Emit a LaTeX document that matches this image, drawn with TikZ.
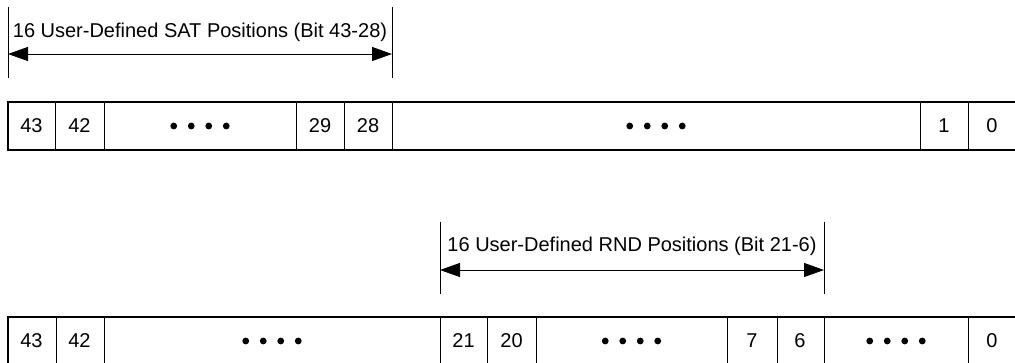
\documentclass[tikz,border=0pt]{standalone}
\usepackage{fontspec}
\setmainfont{Liberation Sans}
\usetikzlibrary{arrows.meta}
\tikzset{
  lbl/.style={font=\fontsize{20}{24}\selectfont, inner sep=0pt, anchor=base},
  num/.style={font=\fontsize{20}{24}\selectfont, inner sep=0pt},
  outer/.style={line width=1.5pt},
  divider/.style={line width=0.8pt},
  tick/.style={line width=0.9pt},
  dimarrow/.style={line width=0.9pt, {Triangle[length=20pt,width=14pt]}-{Triangle[length=20pt,width=14pt]}},
}
\begin{document}
\begin{tikzpicture}[x=1pt,y=-1pt]
\useasboundingbox (0,0) rectangle (1015,363);
% ---------- top register ----------
\draw[outer] (1030,102) -- (8,102) -- (8,150) -- (1030,150);
\foreach \x in {55,104,296,344,392,920,968}
  \draw[divider] (\x,102) -- (\x,150);
\node[num] (t43) at (31.5,126) {43};
\node[num] (t42) at (79.5,126) {42};
\node[num] (t29) at (320,126) {29};
\node[num] (t28) at (368,126) {28};
\node[num] (t1)  at (944,126) {1};
\node[num] (t0)  at (992,126) {0};
\foreach \c in {200,656}
  \foreach \k in {-1.5,-0.5,0.5,1.5}
    \fill (\c+\k*17.5,126) circle (3.4);
% top dimension
\coordinate (tl1) at (8,7);   \coordinate (tl2) at (8,78);
\coordinate (tr1) at (392,7); \coordinate (tr2) at (392,78);
\coordinate (ta) at (8,54);   \coordinate (tb) at (392,54);
\draw[tick] (tl1) -- (tl2);
\draw[tick] (tr1) -- (tr2);
\draw[dimarrow] (ta) -- (tb);
\node[lbl] (tlabel) at (200,38) {16 User-Defined SAT Positions (Bit 43-28)};
% ---------- bottom register ----------
\draw[outer] (1030,317) -- (8,317) -- (8,375);
\draw[divider] (8,375) -- (1030,375);
\foreach \x in {56,104,440,487,536,727,777,824,968}
  \draw[divider] (\x,317) -- (\x,375);
\node[num] (b43) at (31.5,341) {43};
\node[num] (b42) at (79.5,341) {42};
\node[num] (b21) at (463.5,341) {21};
\node[num] (b20) at (511.5,341) {20};
\node[num] (b7)  at (752,341) {7};
\node[num] (b6)  at (800,341) {6};
\node[num] (b0)  at (992,341) {0};
\foreach \c in {272,631.5,896}
  \foreach \k in {-1.5,-0.5,0.5,1.5}
    \fill (\c+\k*17.5,341) circle (3.4);
% bottom dimension
\coordinate (bl1) at (440,222); \coordinate (bl2) at (440,294);
\coordinate (br1) at (824,222); \coordinate (br2) at (824,294);
\coordinate (ba) at (440,270);  \coordinate (bb) at (824,270);
\draw[tick] (bl1) -- (bl2);
\draw[tick] (br1) -- (br2);
\draw[dimarrow] (ba) -- (bb);
\node[lbl] (blabel) at (632,252) {16 User-Defined RND Positions (Bit 21-6)};
\end{tikzpicture}
\end{document}
